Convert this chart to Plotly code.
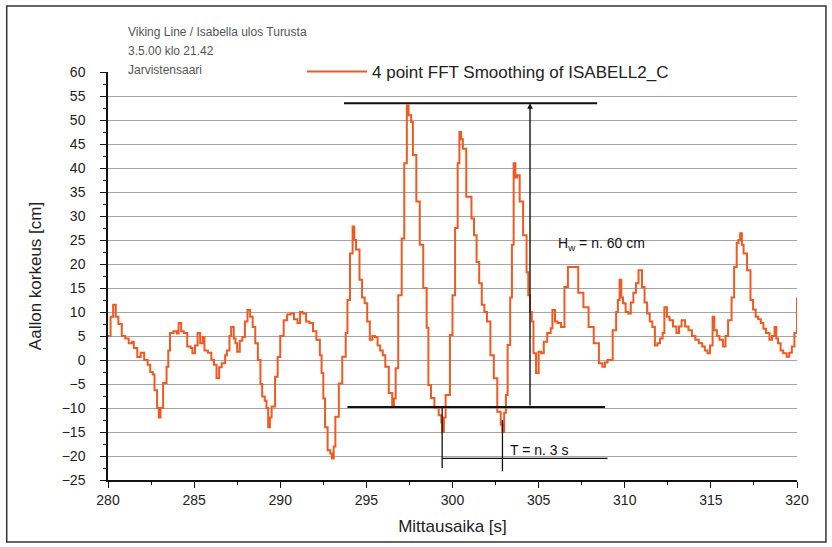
import plotly.graph_objects as go

# Time axis [s] and smoothed wave height [cm]
time_s = [
    280.0, 280.15, 280.3, 280.45, 280.6, 280.8, 281.0, 281.2, 281.4, 281.5, 281.7, 281.9,
    282.1, 282.3, 282.45, 282.6, 282.7, 282.85, 282.95, 283.05, 283.2, 283.4, 283.5, 283.6,
    283.8, 284.0, 284.1, 284.25, 284.4, 284.6, 284.8, 284.9, 285.05, 285.2, 285.35, 285.5,
    285.6, 285.8, 286.0, 286.15, 286.3, 286.45, 286.6, 286.8, 286.9, 287.05, 287.15, 287.3,
    287.4, 287.5, 287.65, 287.8, 287.95, 288.1, 288.25, 288.4, 288.55, 288.7, 288.85, 288.95,
    289.1, 289.2, 289.3, 289.4, 289.5, 289.7, 289.85, 290.0, 290.2, 290.4, 290.6, 290.8,
    291.0, 291.15, 291.3, 291.5, 291.7, 291.9, 292.1, 292.3, 292.4, 292.5, 292.6, 292.75,
    292.9, 293.0, 293.1, 293.2, 293.4, 293.6, 293.8, 293.9, 294.05, 294.2, 294.3, 294.4,
    294.6, 294.75, 294.9, 295.05, 295.2, 295.35, 295.5, 295.65, 295.8, 295.95, 296.1, 296.3,
    296.5, 296.6, 296.7, 296.85, 297.05, 297.2, 297.35, 297.45, 297.6, 297.7, 297.9, 298.1,
    298.3, 298.5, 298.6, 298.75, 298.95, 299.2, 299.35, 299.4, 299.5, 299.6, 299.85, 300.0,
    300.15, 300.3, 300.4, 300.5, 300.6, 300.8, 301.1, 301.25, 301.4, 301.55, 301.7, 301.85,
    302.0, 302.2, 302.4, 302.6, 302.8, 302.9, 303.0, 303.1, 303.2, 303.35, 303.45, 303.55,
    303.65, 303.75, 303.9, 304.1, 304.3, 304.4, 304.5, 304.6, 304.7, 304.85, 305.0, 305.15,
    305.3, 305.5, 305.7, 305.8, 305.95, 306.1, 306.3, 306.5, 306.7, 306.9, 307.1, 307.3,
    307.6, 307.9, 308.2, 308.5, 308.7, 308.85, 309.0, 309.3, 309.5, 309.6, 309.7, 309.8,
    309.9, 310.05, 310.2, 310.35, 310.5, 310.65, 310.8, 311.0, 311.15, 311.3, 311.45, 311.6,
    311.75, 311.9, 312.05, 312.2, 312.3, 312.45, 312.6, 312.8, 313.0, 313.15, 313.3, 313.5,
    313.7, 313.9, 314.1, 314.3, 314.5, 314.65, 314.8, 314.95, 315.1, 315.2, 315.35, 315.5,
    315.7, 315.85, 316.0, 316.2, 316.35, 316.5, 316.6, 316.7, 316.8, 316.9, 317.1, 317.3,
    317.45, 317.6, 317.75, 317.9, 318.05, 318.2, 318.4, 318.55, 318.7, 318.8, 318.9, 319.05,
    319.2, 319.4, 319.55, 319.7, 319.85, 320.0,
]
height_cm = [
    5, 9, 11.5, 9, 7.5, 5, 4.5, 3.5, 3.8, 2.5, 0.6, 1.5,
    0, -1, -2.5, -3, -6.3, -10, -12, -10, -4.8, -1.4, 2, 5.6,
    6, 5.5, 7.7, 6, 5.6, 2.8, 2.5, 1.4, 3, 5.6, 3.5, 4.8,
    2, 1.5, 0, -1, -3.8, -1.5, -0.7, 1, 2, 5, 6.9, 4.5,
    3.5, 1.7, 4, 4.8, 8, 10.4, 9, 6.9, 3.5, 0, -5, -7.6,
    -8.5, -10, -14, -12, -9.7, -3.5, 0.6, 5, 8.3, 9.5, 9.7, 8.5,
    7.7, 10, 9.7, 8, 7.7, 6, 4.2, 1, -2.7, -8, -14, -18.8,
    -19.5, -20.5, -18, -11.8, -4.9, 0.7, 5.6, 12.5, 22.2, 27.8, 25, 23,
    16.7, 13, 11.8, 8, 4.2, 5, 4.8, 3, 2, 1, -1.4, -6.9,
    -9.8, -8, -1.7, 13.5, 25.3, 41, 53, 51, 49.6, 42.7, 33, 24,
    15, 6.7, -5.2, -7.9, -10, -11.5, -13, -15, -12, -7.3, 5.2, 13.5,
    27.5, 41, 47.5, 46, 44, 34, 29.5, 26, 20.4, 16, 11.5, 10,
    8, 1, -3.8, -10.8, -13.5, -15, -11, -7.3, 3.1, 13, 24, 41,
    38, 38.5, 33, 26, 18.3, 13.5, 10, 8, 1.4, -2.7, 1.7, 1.4,
    3.8, 5.6, 6.6, 10.4, 8, 7.7, 6.9, 15.2, 19.4, 19.4, 19.4, 14,
    11, 6.9, 3.5, -0.7, -1.4, -0.5, 0, 6.2, 10, 12.5, 16.7, 13,
    11.8, 10, 9.7, 12, 14, 16, 18.7, 15.2, 12, 9.7, 8, 6.9,
    3, 3.5, 4.5, 5.6, 11, 9, 8.3, 7, 5.6, 7, 8.3, 7,
    6.2, 5, 4.2, 3.5, 2.8, 2, 1.4, 3, 9, 6.2, 5, 4.2,
    2.8, 5, 8.3, 13, 19.4, 24.4, 25, 26.4, 24, 22.2, 18.7, 12.5,
    10.5, 9, 8.5, 7.7, 6.5, 5.6, 4.2, 5, 6.9, 4.5, 3.5, 2,
    1.4, 0.7, 1.5, 2.8, 5.6, 13,
]

series_name = "4 point FFT Smoothing of ISABELL2_C"
header_lines = ["Viking Line / Isabella ulos Turusta", "3.5.00 klo 21.42", "Jarvistensaari"]

# Wave height and period markers
crest_level = 53.5
trough_level = -9.8
height_span = (293.7, 308.4)
trough_span = (293.9, 308.85)
height_arrow_t = 304.5
period_t0, period_t1 = 299.4, 302.9
period_line_end = 309.0
period_level = -20.5

ORANGE = "#ef5a22"
FONT = "Liberation Sans, Arial, sans-serif"

fig = go.Figure()
fig.add_trace(go.Scatter(
    x=time_s, y=height_cm, mode="lines", name=series_name,
    line=dict(color=ORANGE, width=2, shape="hv"),
))

shapes = []
# crest and trough reference lines
shapes.append(dict(type="line", xref="x", yref="y", x0=height_span[0], x1=height_span[1],
                   y0=crest_level, y1=crest_level, line=dict(color="#111", width=2)))
shapes.append(dict(type="line", xref="x", yref="y", x0=trough_span[0], x1=trough_span[1],
                   y0=trough_level, y1=trough_level, line=dict(color="#111", width=2)))
# period markers
shapes.append(dict(type="line", xref="x", yref="y", x0=period_t0, x1=period_t0,
                   y0=trough_level, y1=-22.5, line=dict(color="#111", width=1.3)))
shapes.append(dict(type="line", xref="x", yref="y", x0=period_t1, x1=period_t1,
                   y0=-12.5, y1=-23.2, line=dict(color="#111", width=1.3)))
shapes.append(dict(type="line", xref="x", yref="y", x0=period_t0, x1=period_line_end,
                   y0=period_level, y1=period_level, line=dict(color="#111", width=1.2)))
# outer frame of the sheet
shapes.append(dict(type="rect", xref="paper", yref="paper", x0=-0.147, x1=1.042,
                   y0=-0.152, y1=1.162, line=dict(color="#333", width=1.5)))

annotations = [
    dict(x=height_arrow_t, y=crest_level, ax=height_arrow_t, ay=trough_level,
         xref="x", yref="y", axref="x", ayref="y", showarrow=True,
         arrowhead=2, arrowsize=0.8, arrowwidth=1.4, arrowcolor="#111", text=""),
    dict(x=306.0, y=24.2, xref="x", yref="y", xanchor="left", showarrow=False,
         text="H<sub>w</sub> = n. 60 cm", font=dict(family=FONT, size=14, color="#111")),
    dict(x=303.2, y=-18.8, xref="x", yref="y", xanchor="left", showarrow=False,
         text="T = n. 3 s", font=dict(family=FONT, size=14, color="#111")),
]
for i, line in enumerate(header_lines):
    annotations.append(dict(x=(126 - 108) / 689, y=(480 - 32 - 19 * i) / 408,
                            xref="paper", yref="paper", xanchor="left", yanchor="middle",
                            showarrow=False, text=line,
                            font=dict(family=FONT, size=12, color="#555")))

fig.update_layout(
    width=832, height=547,
    margin=dict(l=108, r=35, t=72, b=67),
    paper_bgcolor="white", plot_bgcolor="white",
    font=dict(family=FONT, color="#222"),
    showlegend=True,
    legend=dict(x=(302 - 108) / 689, y=1.0, xanchor="left", yanchor="middle",
                bgcolor="rgba(0,0,0,0)", font=dict(family=FONT, size=17, color="#222"),
                itemwidth=60),
    shapes=shapes,
    annotations=annotations,
)
fig.update_xaxes(
    range=[280, 320], dtick=5, tick0=280, showgrid=False, zeroline=False,
    showline=True, linecolor="#111", linewidth=1.5,
    ticks="outside", ticklen=6, tickcolor="#111",
    minor=dict(dtick=2.5, ticks="outside", ticklen=3, tickcolor="#111"),
    tickfont=dict(family=FONT, size=14, color="#222"),
    title=dict(text="Mittausaika [s]", font=dict(family=FONT, size=17, color="#222"), standoff=14),
)
fig.update_yaxes(
    range=[-25, 60], dtick=5, tick0=0, showgrid=True, gridcolor="#a5a5a5", gridwidth=1,
    zeroline=False, showline=True, linecolor="#111", linewidth=1.5,
    ticks="outside", ticklen=6, tickcolor="#111", ticklabelstandoff=12,
    minor=dict(dtick=2.5, ticks="outside", ticklen=3, tickcolor="#111", showgrid=False),
    tickfont=dict(family=FONT, size=14, color="#222"),
    title=dict(text="Aallon korkeus [cm]", font=dict(family=FONT, size=17, color="#222"), standoff=16),
)

fig.write_html("out.html")
